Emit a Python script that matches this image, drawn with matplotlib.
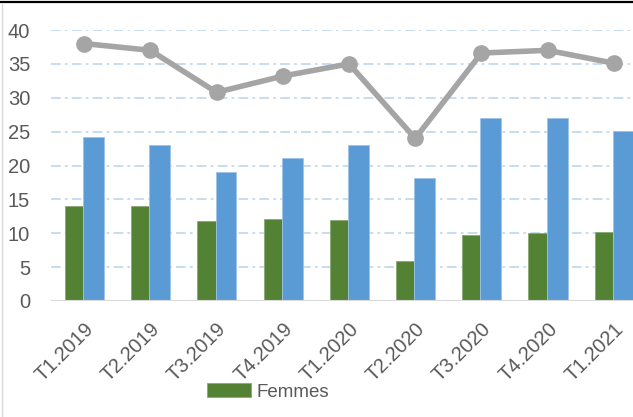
import matplotlib
matplotlib.use("Agg")
import matplotlib.pyplot as plt
from matplotlib.lines import Line2D
import numpy as np

plt.rcParams['font.family'] = ['Liberation Sans', 'DejaVu Sans']
plt.rcParams['lines.scale_dashes'] = False

categories = ["T1.2019", "T2.2019", "T3.2019", "T4.2019", "T1.2020",
              "T2.2020", "T3.2020", "T4.2020", "T1.2021"]
femmes = [14.0, 14.0, 11.8, 12.1, 12.0, 5.9, 9.7, 10.0, 10.2]
hommes = [24.2, 23.0, 19.0, 21.1, 23.0, 18.2, 27.0, 27.0, 25.1]
total = [38.0, 37.0, 30.8, 33.2, 35.0, 24.0, 36.6, 37.0, 35.1]
yticks = [0, 5, 10, 15, 20, 25, 30, 35, 40]

fig = plt.figure(figsize=(6.33, 4.17), dpi=100)
ax = fig.add_axes([51/633, 116/417, 596/633, 271/417])

x = np.arange(len(categories))
ax.bar(x - 0.29, femmes, width=0.275, align='edge', color='#548235',
       edgecolor='#8aa874', linewidth=0.6, zorder=2, label='Femmes')
ax.bar(x - 0.015, hommes, width=0.315, align='edge', color='#5B9BD5',
       edgecolor='#9dc3e6', linewidth=0.6, zorder=2)
ax.plot(x, total, color='#A5A5A5', linewidth=4.0, marker='o', markersize=11,
        zorder=3, solid_capstyle='round')

ax.set_xlim(-0.5, len(categories) - 0.5)
ax.set_ylim(0, 40)
ax.set_yticks(yticks)
ax.set_yticklabels([str(v) for v in yticks], fontsize=14.5)
ax.set_xticks(x)
ax.set_xticklabels(categories, rotation=45, ha='right', va='top',
                   rotation_mode='anchor', fontsize=14.5)

for v in yticks[1:]:
    ax.axhline(v, color='#BDD7EE', linewidth=1.2,
               linestyle=(0, (7, 3, 2, 3)), zorder=1)
ax.axhline(0, color='#D9D9D9', linewidth=1.5, zorder=4)

for s in ax.spines.values():
    s.set_visible(False)
ax.tick_params(axis='both', length=0, colors='#595959')
ax.tick_params(axis='y', pad=15)
ax.tick_params(axis='x', pad=13)

fig.legend(loc='center', bbox_to_anchor=(268/633, 1 - 392/417), frameon=False,
           fontsize=13.5, handlelength=2.33, handleheight=0.78,
           handletextpad=0.3, labelcolor='#595959')

fig.add_artist(Line2D([0, 1], [1 - 2/417, 1 - 2/417], color='black',
                      linewidth=1.6, transform=fig.transFigure))
fig.add_artist(Line2D([1.5/633, 1.5/633], [0, 1 - 4/417], color='#D9D9D9',
                      linewidth=1.0, transform=fig.transFigure))

fig.savefig("out.png", dpi=100)
